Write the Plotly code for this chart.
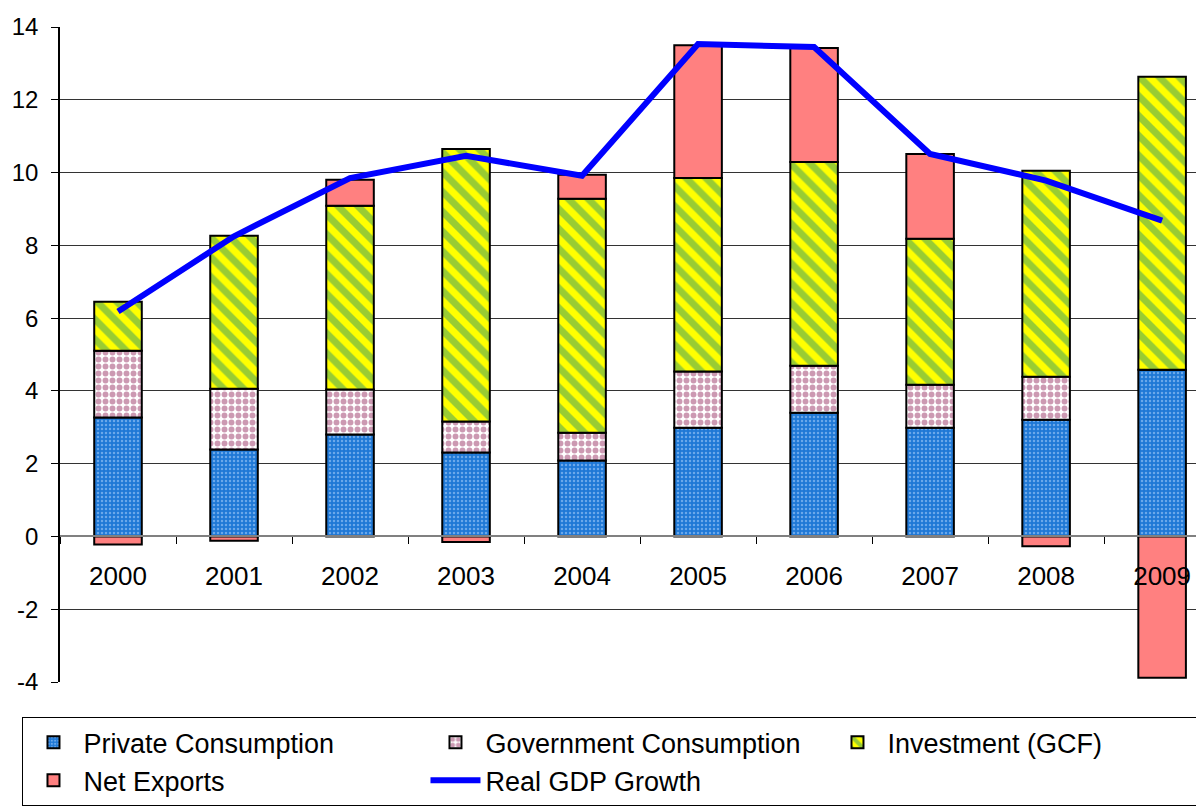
import plotly.graph_objects as go

years = ["2000", "2001", "2002", "2003", "2004", "2005", "2006", "2007", "2008", "2009"]
private_cons = [3.27, 2.39, 2.80, 2.31, 2.09, 2.99, 3.40, 2.99, 3.21, 4.58]
gov_cons = [1.83, 1.67, 1.24, 0.85, 0.76, 1.54, 1.29, 1.18, 1.18, 0.0]
investment = [1.35, 4.20, 5.05, 7.49, 6.43, 5.32, 5.60, 4.01, 5.66, 8.05]
net_exports = [-0.22, -0.12, 0.71, -0.15, 0.66, 3.65, 3.13, 2.33, -0.27, -3.88]
gdp_growth = [6.18, 8.25, 9.85, 10.46, 9.91, 13.53, 13.45, 10.51, 9.78, 8.68]

y_ticks = [-4, -2, 0, 2, 4, 6, 8, 10, 12, 14]
y_tick_text = [str(v) for v in y_ticks]

FONT = "Liberation Sans, Arial, sans-serif"
line_style = dict(color="black", width=2)
bar_w = 0.41

fig = go.Figure()
fig.add_trace(go.Bar(
    x=years, y=private_cons, name="Private Consumption", width=bar_w,
    marker=dict(color="#1F78D6", line=line_style,
                pattern=dict(shape=".", fgcolor="#B5D8FF", bgcolor="#1F78D6",
                             size=4, solidity=0.3, fillmode="overlay")),
))
fig.add_trace(go.Bar(
    x=years, y=gov_cons, name="Government Consumption", width=bar_w,
    marker=dict(color="white", line=line_style,
                pattern=dict(shape=".", fgcolor="#993366", bgcolor="white",
                             size=7, solidity=0.55, fillmode="overlay")),
))
fig.add_trace(go.Bar(
    x=years, y=investment, name="Investment (GCF)", width=bar_w,
    marker=dict(color="#FFFF00", line=line_style,
                pattern=dict(shape="\\", fgcolor="#339966", bgcolor="#FFFF00",
                             size=14, solidity=0.5, fillmode="overlay")),
))
fig.add_trace(go.Bar(
    x=years, y=net_exports, name="Net Exports", width=bar_w,
    marker=dict(color="#FF8080", line=line_style),
))
fig.add_trace(go.Scatter(
    x=years, y=gdp_growth, name="Real GDP Growth", mode="lines",
    line=dict(color="#0000FF", width=6),
))

fig.update_layout(
    barmode="relative",
    width=1204, height=806,
    margin=dict(l=52, r=0, t=19, b=132, autoexpand=False),
    paper_bgcolor="white", plot_bgcolor="white",
    font=dict(family=FONT, size=24, color="black"),
    showlegend=True,
    legend=dict(
        orientation="h", x=-0.033, y=-0.053, xanchor="left", yanchor="top",
        entrywidth=337, entrywidthmode="pixels",
        bordercolor="black", borderwidth=1.5,
        font=dict(family=FONT, size=27, color="black"),
        traceorder="normal", itemwidth=50, tracegroupgap=0,
    ),
    xaxis=dict(
        type="category", range=[-0.5, 9.43],
        anchor="free", position=4 / 18,
        showline=True, linecolor="#808080", linewidth=2,
        ticks="outside", tickson="boundaries", ticklen=7, tickcolor="black",
        ticklabelstandoff=16,
        tickfont=dict(family=FONT, size=26, color="black"),
        showgrid=False, zeroline=False,
    ),
    yaxis=dict(
        range=[-4, 14], tickvals=y_ticks, ticktext=y_tick_text, domain=[0, 1],
        showline=True, linecolor="black", linewidth=1.5,
        ticks="outside", ticklen=7, tickcolor="black",
        ticklabelstandoff=8,
        showgrid=True, gridcolor="#333333", gridwidth=1,
        zeroline=False,
        tickfont=dict(family=FONT, size=24, color="black"),
    ),
)

fig.write_html("out.html")
